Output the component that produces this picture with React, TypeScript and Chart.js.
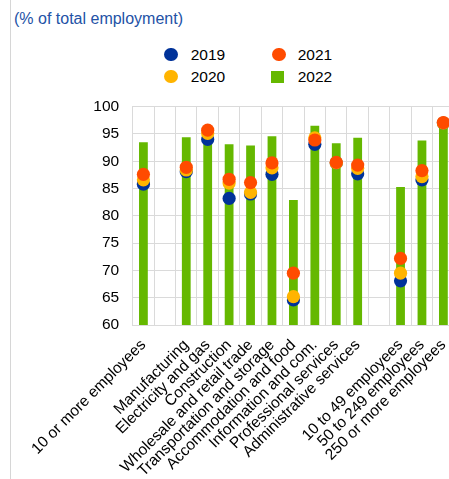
import React, { useEffect, useRef } from "react";
import { Chart, registerables } from "chart.js";

Chart.register(...registerables);

const categories: string[] = [
  "10 or more employees",
  "",
  "Manufacturing",
  "Electricity and gas",
  "Construction",
  "Wholesale and retail trade",
  "Transportation and storage",
  "Accommodation and food",
  "Information and com.",
  "Professional services",
  "Administrative services",
  "",
  "10 to 49 employees",
  "50 to 249 employees",
  "250 or more employees",
];

const values2019: (number | null)[] = [85.8, null, 88.1, 94.0, 83.2, 84.0, 87.6, 64.6, 93.1, 89.7, 87.7, null, 68.1, 86.6, 97.0];
const values2020: (number | null)[] = [86.6, null, 88.4, 95.1, 86.0, 84.3, 88.8, 65.2, 94.3, 89.7, 88.7, null, 69.5, 87.2, 97.0];
const values2021: (number | null)[] = [87.6, null, 88.9, 95.7, 86.7, 86.1, 89.7, 69.5, 93.9, 89.8, 89.3, null, 72.2, 88.3, 97.1];
const values2022: (number | null)[] = [93.5, null, 94.4, 95.6, 93.1, 92.9, 94.6, 82.9, 96.5, 93.3, 94.3, null, 85.3, 93.8, 96.5];

const yTicks: number[] = [60, 65, 70, 75, 80, 85, 90, 95, 100];

const BLUE = "#003299";
const YELLOW = "#ffb400";
const ORANGE = "#ff4b00";
const GREEN = "#65b800";
const GRID = "#dadada";
const FONT = "Arial, 'Liberation Sans', sans-serif";

export default function App() {
  const canvasRef = useRef<HTMLCanvasElement | null>(null);

  useEffect(() => {
    const canvas = canvasRef.current;
    if (!canvas) return;
    const pointDs = (label: string, data: (number | null)[], color: string, order: number) => ({
      type: "line" as const,
      label,
      data,
      showLine: false,
      pointRadius: 6.6,
      pointHoverRadius: 6.6,
      pointBorderWidth: 0,
      pointBackgroundColor: color,
      backgroundColor: color,
      borderColor: color,
      order,
    });
    const chart = new Chart(canvas, {
      type: "bar",
      data: {
        labels: categories,
        datasets: [
          pointDs("2019", values2019, BLUE, 2),
          pointDs("2020", values2020, YELLOW, 1),
          pointDs("2021", values2021, ORANGE, 0),
          {
            type: "bar" as const,
            label: "2022",
            data: values2022,
            backgroundColor: GREEN,
            borderWidth: 0,
            barPercentage: 0.41,
            categoryPercentage: 1,
            order: 3,
          } as any,
        ],
      },
      options: {
        responsive: false,
        animation: false,
        devicePixelRatio: 1,
        layout: { padding: { left: 0, right: 15.9, top: 106.7, bottom: 0 } },
        plugins: {
          legend: { display: false },
          tooltip: { enabled: false },
          title: { display: false },
        },
        scales: {
          x: {
            grid: { color: GRID, offset: true, drawTicks: false, lineWidth: 1 },
            border: { color: GRID },
            ticks: {
              autoSkip: false,
              maxRotation: 45,
              minRotation: 45,
              padding: 11,
              color: "#000",
              font: { family: FONT, size: 15.5 },
            },
            afterFit: (scale: any) => {
              scale.height = 154;
            },
          },
          y: {
            min: 60,
            max: 100,
            afterBuildTicks: (scale: any) => {
              scale.ticks = yTicks.map((v) => ({ value: v }));
            },
            grid: { color: GRID, drawTicks: false, lineWidth: 1 },
            border: { color: GRID },
            ticks: {
              padding: 13.5,
              color: "#000",
              font: { family: FONT, size: 15.5 },
            },
            afterFit: (scale: any) => {
              scale.width = 132.7;
            },
          },
        },
      },
    });
    return () => chart.destroy();
  }, []);

  const legendText: React.CSSProperties = {
    position: "absolute",
    fontFamily: FONT,
    fontSize: 15.5,
    lineHeight: "16px",
    color: "#000",
    whiteSpace: "nowrap",
  };
  const dot = (left: number, top: number, color: string): React.CSSProperties => ({
    position: "absolute",
    left,
    top,
    width: 13.4,
    height: 13.4,
    borderRadius: "50%",
    background: color,
  });

  return (
    <div
      style={{
        position: "fixed",
        left: 0,
        top: 0,
        width: 449,
        height: 479,
        overflow: "hidden",
        background: "#fff",
      }}
    >
      <div style={{ position: "absolute", left: 10, top: 0, width: 1, height: 479, background: "#d6d6d6" }} />
      <div
        style={{
          position: "absolute",
          left: 14,
          top: 11.4,
          fontFamily: FONT,
          fontSize: 16,
          lineHeight: "16px",
          color: "#2352a6",
          whiteSpace: "nowrap",
        }}
      >
        (% of total employment)
      </div>
      <div style={dot(164.3, 47.6, BLUE)} />
      <div style={{ ...legendText, left: 190.7, top: 46.6 }}>2019</div>
      <div style={dot(272.3, 47.6, ORANGE)} />
      <div style={{ ...legendText, left: 297.7, top: 46.6 }}>2021</div>
      <div style={dot(164.3, 70, YELLOW)} />
      <div style={{ ...legendText, left: 190.7, top: 68.9 }}>2020</div>
      <div style={{ position: "absolute", left: 271.3, top: 70.5, width: 13, height: 12.5, background: GREEN }} />
      <div style={{ ...legendText, left: 297.7, top: 68.9 }}>2022</div>
      <canvas
        ref={canvasRef}
        width={470}
        height={479}
        style={{ position: "absolute", left: 0, top: 0, width: 470, height: 479 }}
      />
    </div>
  );
}
